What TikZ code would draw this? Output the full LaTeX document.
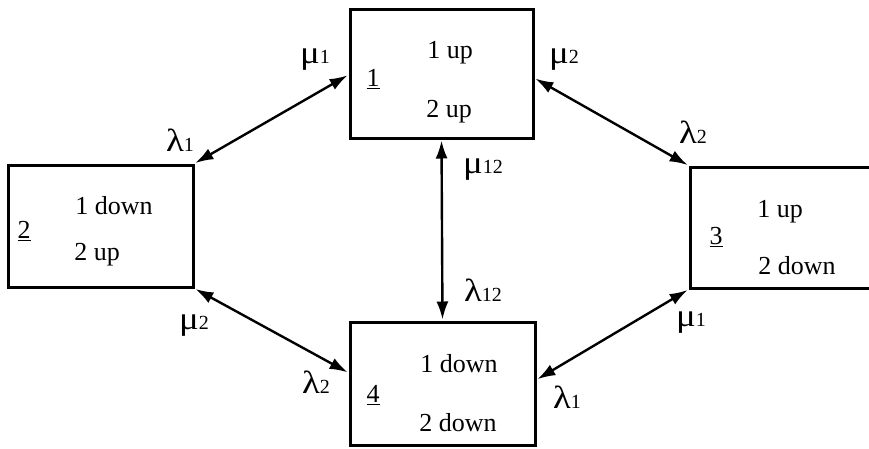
\documentclass[tikz,border=0pt]{standalone}
\usepackage{fontspec}
\setmainfont{Liberation Serif}
\usetikzlibrary{arrows.meta,calc}
\tikzset{
  statebox/.style={draw, line width=3pt, inner sep=0pt, minimum width=#1},
  txt/.style={inner sep=0pt, font=\fontsize{26}{26}\selectfont},
  lbl/.style={inner sep=0pt},
  trans/.style={line width=2.4pt, {Latex[length=18pt,width=12pt]}-{Latex[length=18pt,width=12pt]}, shorten <=1pt, shorten >=1pt}
}
\newcommand{\gl}[2]{\scalebox{1.15}[1]{\fontsize{32}{32}\selectfont #1}{\fontsize{20}{20}\selectfont #2}}
\begin{document}
\begin{tikzpicture}[x=1pt,y=-1pt]
\useasboundingbox (0,0) rectangle (869,448);
\clip (0,0) rectangle (869,448);
% boxes
\node[statebox=183pt, minimum height=129pt] (b1) at (441.5,73.5) {};
\node[statebox=185pt, minimum height=122pt] (b2) at (100.5,226) {};
\node[statebox=190pt, minimum height=121pt] (b3) at (785,227.5) {};
\node[statebox=185pt, minimum height=123pt] (b4) at (442.5,383.5) {};
% box texts
\node[txt] (t1a) at (450,53) {1 up};
\node[txt] (t1b) at (449,112) {2 up};
\node[txt] (n1) at (373,79) {\underline{1}};
\node[txt] (t2a) at (114,206) {1 down};
\node[txt] (t2b) at (97,255) {2 up};
\node[txt] (n2) at (24,231) {\underline{2}};
\node[txt] (t3a) at (780,212) {1 up};
\node[txt] (t3b) at (797,266) {2 down};
\node[txt] (n3) at (716,237) {\underline{3}};
\node[txt] (t4a) at (459,364) {1 down};
\node[txt] (t4b) at (458,423) {2 down};
\node[txt] (n4) at (373,395) {\underline{4}};
% anchor points
\coordinate (p1w) at ($(b1.north west)!0.51!(b1.south west)$);
\coordinate (p1e) at ($(b1.north east)!0.535!(b1.south east)$);
\coordinate (p4w) at ($(b4.north west)!0.415!(b4.south west)$);
\coordinate (p4e) at ($(b4.north east)!0.47!(b4.south east)$);
% connectors
\draw[trans] (b2.north east) -- (p1w);
\draw[trans] (p1e) -- (b3.north west);
\draw[trans] (b1.south) -- (b4.north);
\draw[trans] (b2.south east) -- (p4w);
\draw[trans] (b3.south west) -- (p4e);
% labels
\node[lbl] (m1a) at (315,60) {\gl{μ}{1}};
\node[lbl] (l1a) at (180,140) {\gl{λ}{1}};
\node[lbl] (m2a) at (564,60) {\gl{μ}{2}};
\node[lbl] (l2a) at (693,132) {\gl{λ}{2}};
\node[lbl] (m12) at (483,170) {\gl{μ}{12}};
\node[lbl] (l12) at (483,290) {\gl{λ}{12}};
\node[lbl] (m2b) at (194,326) {\gl{μ}{2}};
\node[lbl] (l2b) at (316,382) {\gl{λ}{2}};
\node[lbl] (m1b) at (691,323) {\gl{μ}{1}};
\node[lbl] (l1b) at (567,397) {\gl{λ}{1}};
\end{tikzpicture}
\end{document}
